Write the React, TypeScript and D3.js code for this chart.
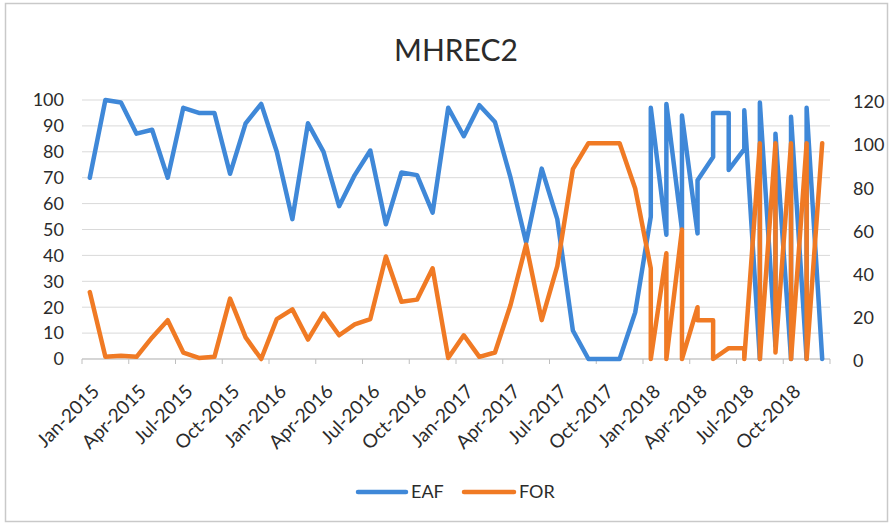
import React from "react";
import * as d3 from "d3";

const W = 892;
const H = 527;

const monthNames = ["Jan","Feb","Mar","Apr","May","Jun","Jul","Aug","Sep","Oct","Nov","Dec"];
const years = [2015, 2016, 2017, 2018];
const monthLabels: string[] = years.flatMap((y) => monthNames.map((m) => `${m}-${y}`));

// Points: 2015-2017 one point per month; 2018 two readings per month (plotted on the same month)
const pointMonths: string[] = [
  ...monthLabels.slice(0, 36),
  "Jan-2018","Jan-2018","Feb-2018","Feb-2018","Mar-2018","Mar-2018",
  "Apr-2018","Apr-2018","May-2018","May-2018","Jun-2018","Jun-2018",
  "Jul-2018","Jul-2018","Aug-2018","Aug-2018","Sep-2018","Sep-2018",
  "Oct-2018","Oct-2018","Nov-2018","Nov-2018","Dec-2018",
];

const eafValues: number[] = [
  // 2015
  70, 100, 99, 87, 88.5, 70, 97, 95, 95, 71.5, 91, 98.5,
  // 2016
  80, 54, 91, 80, 59, 71, 80.5, 52, 72, 71, 56.5, 97,
  // 2017
  86, 98, 91.5, 70, 45, 73.5, 54, 11, 0, 0, 0, 18,
  // 2018
  55, 97, 48, 98.5, 50, 94, 48.5, 69, 78, 95, 95, 73,
  81, 96, 0, 99, 5, 87, 0, 93.5, 0, 97, 0,
];

const forValues: number[] = [
  // 2015
  31, 1, 1.5, 1, 10, 18, 3, 0.5, 1, 28, 10, 0,
  // 2016
  18.5, 23, 9, 21, 11, 16, 18.5, 47.5, 26.5, 27.5, 42, 0.5,
  // 2017
  11, 1, 3, 25, 53, 18, 43, 88, 100, 100, 100, 79,
  // 2018
  42, 0, 49, 0, 60, 0, 24, 18, 18, 0, 5, 5,
  5, 0, 100, 0, 100, 3, 100, 0, 100, 0, 100,
];

const leftTicks = [0, 10, 20, 30, 40, 50, 60, 70, 80, 90, 100];
const rightTicks = [0, 20, 40, 60, 80, 100, 120];
const xTickLabels = monthLabels.filter((_, i) => i % 3 === 0 && i < 46);

const title = "MHREC2";
const seriesNames = ["EAF", "FOR"];
const colors = ["#3f88d8", "#f07a24"];

const FONT = "Lato, 'Noto Sans', sans-serif";

export default function App() {
  const left = 82, right = 830, top = 100, bottom = 359;
  const x = d3.scaleBand<string>().domain(monthLabels).range([left, right]).padding(0);
  const bw = x.bandwidth();
  const cx = (m: string) => (x(m) as number) + bw / 2;
  const yL = d3.scaleLinear().domain([0, 100]).range([bottom, top]);
  const yR = d3.scaleLinear().domain([0, 120]).range([bottom, top]);

  const idx = d3.range(pointMonths.length);
  const lineL = d3.line<number>().x((i) => cx(pointMonths[i])).y((i) => yL(eafValues[i]));
  const lineR = d3.line<number>().x((i) => cx(pointMonths[i])).y((i) => yR(forValues[i]));

  const tickXs = [...monthLabels.filter((_, i) => i % 3 === 0).map((m) => x(m) as number), right];

  return (
    <svg width={W} height={H} style={{ position: "absolute", left: 0, top: 0, background: "#fff" }} fontFamily={FONT}>
      <rect x={5.5} y={3.5} width={882} height={518} fill="#fff" stroke="#c9c9c9" strokeWidth={1.5} />
      <text x={(left + right) / 2} y={61} textAnchor="middle" fontSize={30} fill="#2b2b2b">{title}</text>

      {leftTicks.map((t) => (
        <line key={"g" + t} x1={left} x2={right} y1={yL(t)} y2={yL(t)} stroke="#d9d9d9" strokeWidth={1} />
      ))}
      <line x1={left} x2={right} y1={bottom} y2={bottom} stroke="#bfbfbf" strokeWidth={1} />
      {tickXs.map((tx, i) => (
        <line key={"t" + i} x1={tx} x2={tx} y1={bottom} y2={bottom + 5} stroke="#bfbfbf" strokeWidth={1} />
      ))}

      {leftTicks.map((t) => (
        <text key={"l" + t} x={64} y={yL(t)} dy="0.35em" textAnchor="end" fontSize={18} fill="#2b2b2b">{t}</text>
      ))}
      {rightTicks.map((t) => (
        <text key={"r" + t} x={853} y={yR(t) + 2} dy="0.35em" textAnchor="start" fontSize={18} fill="#2b2b2b">{t}</text>
      ))}

      {xTickLabels.map((m) => {
        const px = cx(m) + 6;
        const py = 388;
        return (
          <text key={"x" + m} x={px} y={py} dy="0.35em" textAnchor="end" fontSize={19} fill="#2b2b2b"
            transform={`rotate(-45 ${px} ${py})`}>{m}</text>
        );
      })}

      <path d={lineL(idx) || ""} fill="none" stroke={colors[0]} strokeWidth={4.5} strokeLinejoin="round" strokeLinecap="round" />
      <path d={lineR(idx) || ""} fill="none" stroke={colors[1]} strokeWidth={4.5} strokeLinejoin="round" strokeLinecap="round" />

      <g>
        <line x1={358} x2={406} y1={492} y2={492} stroke={colors[0]} strokeWidth={4.5} strokeLinecap="round" />
        <text x={411} y={492} dy="0.35em" fontSize={18} fill="#2b2b2b">{seriesNames[0]}</text>
        <line x1={464} x2={514} y1={492} y2={492} stroke={colors[1]} strokeWidth={4.5} strokeLinecap="round" />
        <text x={519} y={492} dy="0.35em" fontSize={18} fill="#2b2b2b">{seriesNames[1]}</text>
      </g>
    </svg>
  );
}
